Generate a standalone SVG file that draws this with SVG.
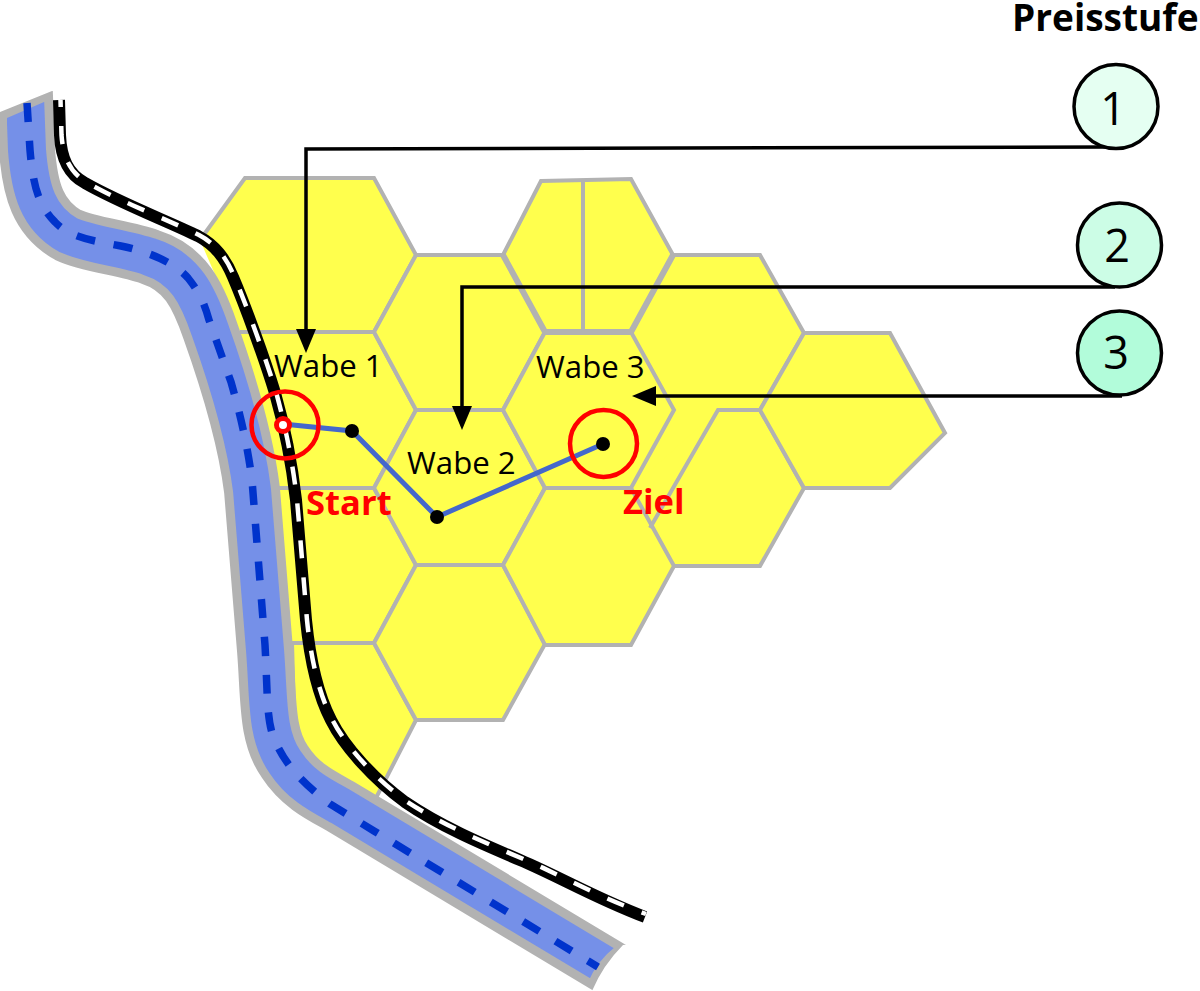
<svg xmlns="http://www.w3.org/2000/svg" width="1200" height="991" viewBox="0 0 1200 991">
<style>
.hex{fill:#ffff4d;stroke:#b2b2b2;stroke-width:4;stroke-linejoin:miter}
.fill{fill:#ffff4d}
.edge{fill:none;stroke:#b2b2b2;stroke-width:4}
.hexw{fill:none;stroke:#b2b2b2;stroke-width:6}
.lbl{font-family:"Open Sans","Noto Sans",sans-serif;font-size:31.2px;fill:#000}
.red{font-family:"Open Sans","Noto Sans",sans-serif;font-size:34.6px;font-weight:700;fill:#f00}
.num{font-family:"Open Sans","Noto Sans",sans-serif;font-size:45px;fill:#000;text-anchor:middle}
.lvl{stroke:#000;stroke-width:3.5}
.ptr{fill:none;stroke:#000;stroke-width:3.5;marker-end:url(#ah)}
.dot{fill:#000}
.ring{fill:none;stroke:#f00;stroke-width:4.5}
</style>
<defs>
<marker id="ah" markerUnits="userSpaceOnUse" markerWidth="24" markerHeight="20" refX="0" refY="10" orient="auto" overflow="visible"><path d="M0 0L24 10L0 20Z" fill="#000"/></marker>
<clipPath id="cg"><path d="M-5 114L52 91L1200 91L1200 900L623 945Q603 965 592 991L-5 991Z"/></clipPath>
<clipPath id="cb"><path d="M7 118L44 102L1200 102L1200 900L615 947Q598 960 588 982L-5 991Z"/></clipPath>
</defs>
<g id="cells">
<path id="d1" class="fill" d="M673 255L760 255L803 332L760 410L718 410L650 528L631 488L674 410L631 332Z"/>
<path id="d2" class="fill" d="M760 410L804 488L760 566L674 566L631 488L718 410Z"/>
<path id="a1" class="hex" d="M200 240L245 178L374 178L416 255L374 332L240 332"/>
<path id="a2" class="hex" d="M240 332L374 332L416 410L374 488L277 488"/>
<path id="a3" class="hex" d="M277 488L374 488L416 565L374 643L292 643"/>
<path id="a4" class="hex" d="M292 643L374 643L416 720L375 800L340 780L295 745Z"/>
<path id="b1" class="hex" d="M416 255L503 255L545 332L503 410L416 410L374 332Z"/>
<path id="b2" class="hex" d="M416 410L503 410L545 488L503 565L416 565L374 488Z"/>
<path id="b3" class="hex" d="M416 565L503 565L545 644L503 720L416 720L374 643Z"/>
<path id="c1" class="hex" d="M541 181L631 179L673 255L631 332L545 332L503 255Z"/>
<path id="c2" class="hex" d="M545 332L631 332L674 410L631 488L545 488L503 410Z"/>
<path id="c3" class="hex" d="M545 488L631 488L674 566L631 645L545 645L503 565Z"/>
<path id="d1e" class="edge" d="M673 255L760 255L804 333L760 410L718 410L650 528"/>
<path id="d2e" class="edge" d="M760 410L804 488L760 566L674 566"/>
<path id="e1" class="hex" d="M804 333L890 333L945 433L890 488L804 488L760 410Z"/>
<path class="edge" d="M583 180L583 332"/>
<path class="hexw" d="M503 255L545 332L631 332L673 255"/>
</g>
<g id="river">
<path clip-path="url(#cg)" d="M24 70L27 150C30 190 38 218 68 235C90 245 125 248 150 257C185 268 198 295 210 330C235 400 247 450 252 490L265 650C269 700 266 735 285 762C300 785 320 795 340 806L660 998" fill="none" stroke="#b2b2b2" stroke-width="56"/>
<path clip-path="url(#cb)" d="M24 70L27 150C30 190 38 218 68 235C90 245 125 248 150 257C185 268 198 295 210 330C235 400 247 450 252 490L265 650C269 700 266 735 285 762C300 785 320 795 340 806L660 998" fill="none" stroke="#7590e8" stroke-width="38"/>
<path d="M27 103L30 150C33 185 38 205 55 222C70 238 95 241 121 246C150 252 175 263 188 278C200 293 205 305 209 320L231 382C242 420 248 450 252 480L265 645C268 700 266 725 277 745C288 768 305 785 330 804L374 831L598 967" fill="none" stroke="#0033cc" stroke-width="7.5" stroke-dasharray="19 18.8"/>
</g>
<g id="road">
<path d="M59 100L60 135C61 158 68 174 85 183C120 203 165 220 198 236C215 245 225 258 233 277C245 305 265 360 275 393C285 428 292 465 296 500C300 545 303 585 306 620C310 660 318 695 331 720C345 748 375 780 405 802C440 826 480 843 520 860C560 877 595 898 645 917" fill="none" stroke="#000" stroke-width="12"/>
<path d="M60.5 100L61.5 135C63 157 70 172 86 182C121 202 166 219 199 235C216 244 226 257 234 276C246 304 266 359 276 392C286 428 293 465 297 500C301 545 304 585 307 620C311 660 319 694 332 719C346 747 376 779 406 801C441 824 481 841 521 858C561 875 596 896 646 914" fill="none" stroke="#fff" stroke-width="4.5" stroke-dasharray="18 19" stroke-dashoffset="11"/>
</g>
<g id="connectors">
<path d="M283 424L352 431L437 517L603 444" fill="none" stroke="#4468cc" stroke-width="5"/>
<path class="ptr" d="M1112 147L306 149L306 329"/>
<path class="ptr" d="M1115 287L462 287L462 406"/>
<path class="ptr" d="M1122 396L656 396"/>
</g>
<g id="start">
<circle class="ring" cx="285" cy="425" r="33.5"/>
<circle cx="283" cy="425" r="6.5" fill="#fff" stroke="#f00" stroke-width="5"/>
<text class="red" x="306" y="515">Start</text>
</g>
<g id="via1"><circle class="dot" cx="352" cy="431" r="7"/></g>
<g id="via2"><circle class="dot" cx="437" cy="517" r="7"/></g>
<g id="ziel">
<circle class="ring" cx="603.5" cy="443.5" r="33.5"/>
<circle class="dot" cx="603" cy="444" r="7"/>
<text class="red" x="623" y="514">Ziel</text>
</g>
<g id="labels">
<text class="lbl" x="274" y="377">Wabe 1</text>
<text class="lbl" x="407" y="474">Wabe 2</text>
<text class="lbl" x="536" y="378">Wabe 3</text>
</g>
<g id="legend">
<text x="1012" y="31" font-family="'Open Sans','Noto Sans',sans-serif" font-size="37" font-weight="700" fill="#000">Preisstufe</text>
<g id="level1"><circle class="lvl" cx="1116" cy="106.5" r="42" fill="#e5fff2"/><text class="num" x="1113" y="125">1</text></g>
<g id="level2"><circle class="lvl" cx="1119.5" cy="245" r="42" fill="#ccfde6"/><text class="num" x="1117" y="262">2</text></g>
<g id="level3"><circle class="lvl" cx="1119.5" cy="353" r="42" fill="#b2fcda"/><text class="num" x="1116" y="369">3</text></g>
</g>
</svg>
